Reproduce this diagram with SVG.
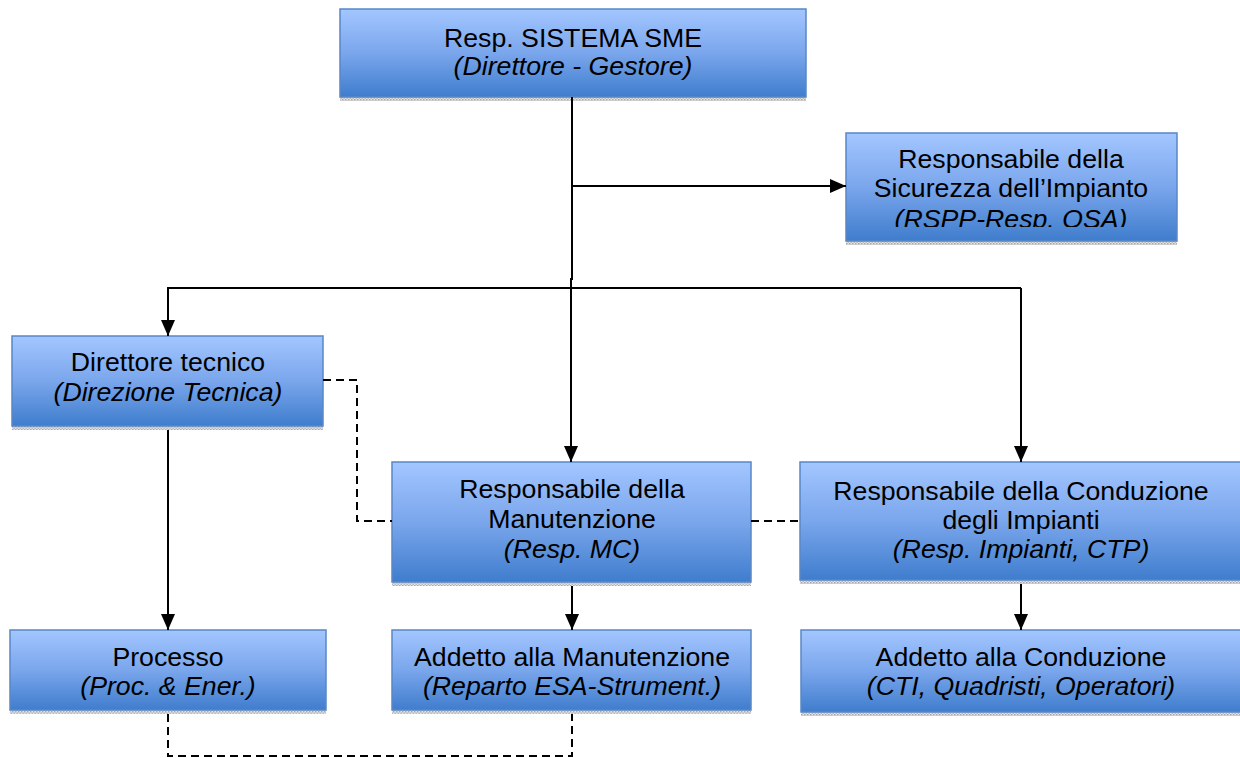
<svg xmlns="http://www.w3.org/2000/svg" width="1240" height="758" viewBox="0 0 1240 758">
<style>
.box{fill:url(#g);stroke:#5a87c6;stroke-width:1.5}
.sh{fill:url(#dots)}
text{font-family:"Liberation Sans",Arial,sans-serif;font-size:26.7px;fill:#000;text-anchor:middle}
.i{font-style:italic}
.c{fill:none;stroke:#000;stroke-width:2}
.d{fill:none;stroke:#000;stroke-width:2;stroke-dasharray:8 5}
</style>
<defs>
<linearGradient id="g" x1="0" y1="0" x2="0" y2="1">
<stop offset="0" stop-color="#a3c6ff"/>
<stop offset="0.5" stop-color="#7aa6ec"/>
<stop offset="1" stop-color="#3f7dcd"/>
</linearGradient>
<pattern id="dots" width="3" height="3" patternUnits="userSpaceOnUse">
<rect width="3" height="3" fill="#e4e4e4"/>
<rect width="1.5" height="1.5" fill="#a8a8a8"/>
<rect x="1.5" y="1.5" width="1.5" height="1.5" fill="#b8b8b8"/>
</pattern>
<marker id="a" viewBox="0 0 16 14" refX="16" refY="7" markerWidth="16" markerHeight="14" markerUnits="userSpaceOnUse" orient="auto">
<path d="M0,0 L16,7 L0,14 Z" fill="#000"/>
</marker>
<clipPath id="clipR"><rect x="846" y="133" width="331" height="94"/></clipPath>
</defs>

<g id="n-sme">
<rect class="sh" x="340" y="97" width="466" height="4"/>
<rect class="box" x="340" y="9" width="466" height="88"/>
<text x="573" y="47">Resp. SISTEMA SME</text>
<text class="i" x="573" y="75">(Direttore - Gestore)</text>
</g>

<g id="n-rssi">
<rect class="sh" x="846" y="241" width="331" height="4"/>
<rect class="box" x="846" y="133" width="331" height="108"/>
<g clip-path="url(#clipR)">
<text x="1011" y="168">Responsabile della</text>
<text x="1011" y="197">Sicurezza dell’Impianto</text>
<text class="i" x="1011" y="228">(RSPP-Resp. QSA)</text>
</g>
</g>

<g id="n-dirtec">
<rect class="sh" x="12" y="426" width="311" height="4"/>
<rect class="box" x="12" y="336" width="311" height="90"/>
<text x="168" y="371">Direttore tecnico</text>
<text class="i" x="168" y="401">(Direzione Tecnica)</text>
</g>

<g id="n-respman">
<rect class="sh" x="392" y="582" width="359" height="4"/>
<rect class="box" x="392" y="462" width="359" height="120"/>
<text x="572" y="498">Responsabile della</text>
<text x="572" y="528">Manutenzione</text>
<text class="i" x="572" y="558">(Resp. MC)</text>
</g>

<g id="n-respcond">
<rect class="sh" x="800" y="580" width="440" height="4"/>
<rect class="box" x="800" y="462" width="441" height="118"/>
<text x="1021" y="500">Responsabile della Conduzione</text>
<text x="1021" y="529">degli Impianti</text>
<text class="i" x="1021" y="558">(Resp. Impianti, CTP)</text>
</g>

<g id="n-processo">
<rect class="sh" x="10" y="710" width="316" height="4"/>
<rect class="box" x="10" y="630" width="316" height="80"/>
<text x="168" y="666">Processo</text>
<text class="i" x="168" y="695">(Proc. &amp; Ener.)</text>
</g>

<g id="n-addman">
<rect class="sh" x="392" y="710" width="359" height="4"/>
<rect class="box" x="392" y="630" width="359" height="80"/>
<text x="572" y="666">Addetto alla Manutenzione</text>
<text class="i" x="572" y="695">(Reparto ESA-Strument.)</text>
</g>

<g id="n-addcond">
<rect class="sh" x="801" y="712" width="439" height="4"/>
<rect class="box" x="801" y="630" width="440" height="82"/>
<text x="1021" y="666">Addetto alla Conduzione</text>
<text class="i" x="1021" y="695">(CTI, Quadristi, Operatori)</text>
</g>

<g id="connectors">
<path class="c" d="M572,97 V280"/>
<path class="c" d="M571,278 V462" marker-end="url(#a)"/>
<path class="c" d="M572,186 H846" marker-end="url(#a)"/>
<path class="c" d="M1021,288 H168 V336" marker-end="url(#a)"/>
<path class="c" d="M1021,288 V462" marker-end="url(#a)"/>
<path class="c" d="M168,430 V630" marker-end="url(#a)"/>
<path class="c" d="M572,586 V630" marker-end="url(#a)"/>
<path class="c" d="M1021,584 V630" marker-end="url(#a)"/>
<path class="d" d="M323,380 H357 V521 H392"/>
<path class="d" d="M751,521 H800"/>
<path class="d" d="M168,714 V756 H572 V714"/>
</g>
</svg>
